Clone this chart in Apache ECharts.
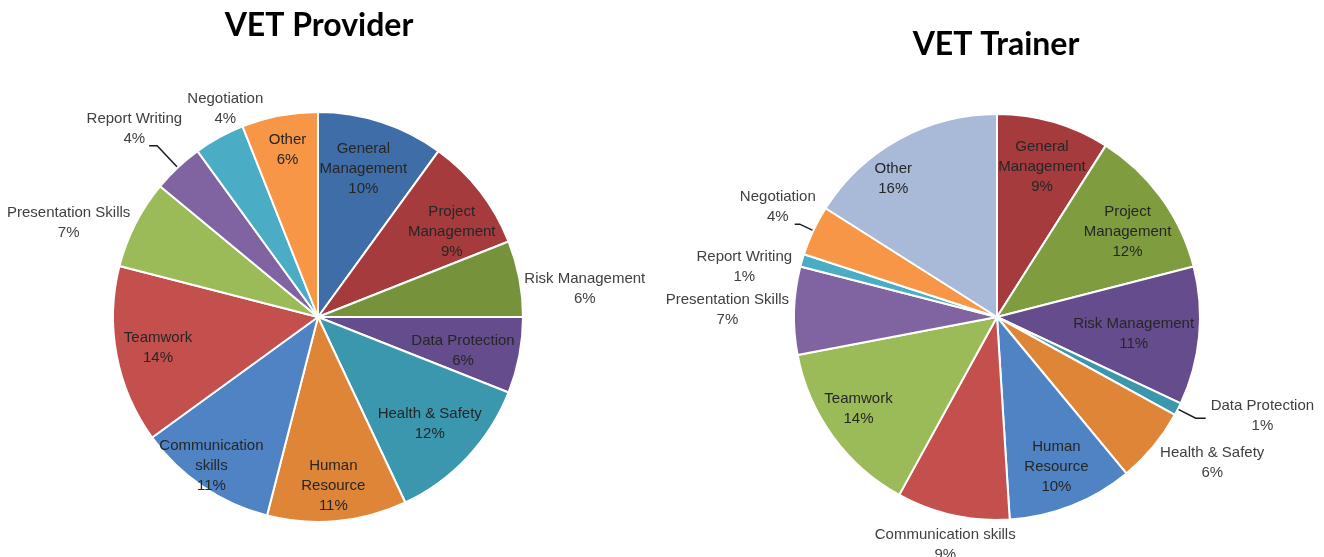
<!DOCTYPE html>
<html>
<head>
<meta charset="utf-8">
<script src="https://cdn.jsdelivr.net/npm/echarts@6/dist/echarts.min.js"></script>
<style>
  html, body { margin: 0; padding: 0; background: #fff; }
  #chart { width: 1324px; height: 557px; }
</style>
</head>
<body>
<div id="chart"></div>
<script>
// slices run clockwise from 12 o'clock
var providerNames = ['General Management', 'Project Management', 'Risk Management', 'Data Protection', 'Health & Safety', 'Human Resource', 'Communication skills', 'Teamwork', 'Presentation Skills', 'Report Writing', 'Negotiation', 'Other'];
var providerValues = [10, 9, 6, 6, 12, 11, 11, 14, 7, 4, 4, 6];
var providerLabels = ['General\nManagement', 'Project\nManagement', 'Risk Management', 'Data Protection', 'Health & Safety', 'Human\nResource', 'Communication\nskills', 'Teamwork', 'Presentation Skills', 'Report Writing', 'Negotiation', 'Other'];

var trainerNames = ['General Management', 'Project Management', 'Risk Management', 'Data Protection', 'Health & Safety', 'Human Resource', 'Communication skills', 'Teamwork', 'Presentation Skills', 'Report Writing', 'Negotiation', 'Other'];
var trainerValues = [9, 12, 11, 1, 6, 10, 9, 14, 7, 1, 4, 16];
var trainerLabels = ['General\nManagement', 'Project\nManagement', 'Risk Management', 'Data Protection', 'Health & Safety', 'Human\nResource', 'Communication skills', 'Teamwork', 'Presentation Skills', 'Report Writing', 'Negotiation', 'Other'];

var providerColors = ['#3f6da8', '#a53b3c', '#76933c', '#654c8c', '#3a97ad', '#de8538', '#4f83c4', '#c4504e', '#9bbb59', '#8064a2', '#4bacc6', '#f79646'];
var trainerColors = ['#a53b3c', '#7f9c3f', '#654c8c', '#3a97ad', '#de8538', '#4f83c4', '#c4504e', '#9bbb59', '#8064a2', '#4bacc6', '#f79646', '#a9bad8'];

// labels that sit outside the pie, and how
var providerOut = {
  2: { len: 0, len2: 0, line: false, dx: 0, dy: 10 },
  8: { len: 0, len2: 0, line: false, dx: 0, dy: -1 },
  9: { len: 30, len2: 8, line: true, dx: 38, dy: -17 },
  10: { len: 0, len2: 0, line: false, dx: 49, dy: -28 }
};
var trainerOut = {
  3: { len: 20, len2: 10, line: true, dx: 0, dy: -2 },
  4: { len: 10, len2: 0, line: false, dx: -6, dy: 10 },
  6: { len: 14, len2: 0, line: false, dx: 71, dy: 16 },
  8: { len: 0, len2: 0, line: false, dx: 0, dy: -1 },
  9: { len: 0, len2: 0, line: false, dx: -5, dy: 6 },
  10: { len: 15, len2: 5, line: true, dx: 26, dy: -17 }
};
// nudges for the labels drawn inside the slices
var providerIn = { 0: [-5, 7], 1: [5, 15], 3: [-15, 3], 4: [-7, -5], 5: [0, 7], 6: [-15, 14], 11: [0, -7] };
var trainerIn = { 0: [0, 5], 1: [0, 10], 2: [-24, 2], 7: [-8, -3], 11: [-26, 3] };

var labelFont = "'Liberation Sans', Arial, sans-serif";

function labelRich(color) {
  return {
    t: { align: 'center', fontSize: 15, lineHeight: 20, color: color, fontFamily: labelFont }
  };
}

function makeSeries(center, r, names, values, labels, colors, out, nudge) {
  var fmt = function (p) {
    return '{t|' + labels[p.dataIndex] + '}\n{t|' + p.value + '%}';
  };
  var main = {
    type: 'pie',
    center: center,
    radius: [0, r],
    startAngle: 90,
    avoidLabelOverlap: false,
    itemStyle: { borderColor: '#fff', borderWidth: 2 },
    label: { position: 'outside', formatter: fmt, rich: labelRich('#404040'), distanceToLabelLine: 5 },
    labelLine: { lineStyle: { color: '#1a1a1a', width: 1.5 } },
    emphasis: { disabled: true },
    labelLayout: function (p) {
      var c = out[p.dataIndex];
      return c ? { dx: c.dx, dy: c.dy, hideOverlap: false } : {};
    },
    data: names.map(function (n, i) {
      var c = out[i];
      return {
        name: n,
        value: values[i],
        itemStyle: { color: colors[i] },
        label: { show: !!c },
        labelLine: c ? { show: c.line, length: c.len, length2: c.len2 } : { show: false }
      };
    })
  };
  // transparent ring that carries the inside labels a bit further out
  var overlay = {
    type: 'pie',
    center: center,
    radius: [r * 0.56, r],
    startAngle: 90,
    silent: true,
    avoidLabelOverlap: false,
    itemStyle: { color: 'rgba(0,0,0,0)', borderWidth: 0 },
    label: { position: 'inside', formatter: fmt, rich: labelRich('#262626') },
    labelLine: { show: false },
    labelLayout: function (p) {
      var d = nudge[p.dataIndex] || [0, 0];
      return { dx: d[0], dy: d[1], hideOverlap: false };
    },
    data: names.map(function (n, i) {
      return { name: n, value: values[i], label: { show: !out[i] } };
    })
  };
  return [main, overlay];
}

var chart = echarts.init(document.getElementById('chart'));
chart.setOption({
  animation: false,
  backgroundColor: '#fff',
  title: [
    { text: 'VET Provider', left: 314, top: 5, textAlign: 'center',
      textStyle: { fontFamily: 'Lato', fontWeight: 'bold', fontSize: 32, color: '#000' } },
    { text: 'VET Trainer', left: 991, top: 24, textAlign: 'center',
      textStyle: { fontFamily: 'Lato', fontWeight: 'bold', fontSize: 32, color: '#000' } }
  ],
  series: makeSeries([318, 317], 205, providerNames, providerValues, providerLabels, providerColors, providerOut, providerIn)
    .concat(makeSeries([997, 317], 203, trainerNames, trainerValues, trainerLabels, trainerColors, trainerOut, trainerIn))
});
</script>
</body>
</html>
